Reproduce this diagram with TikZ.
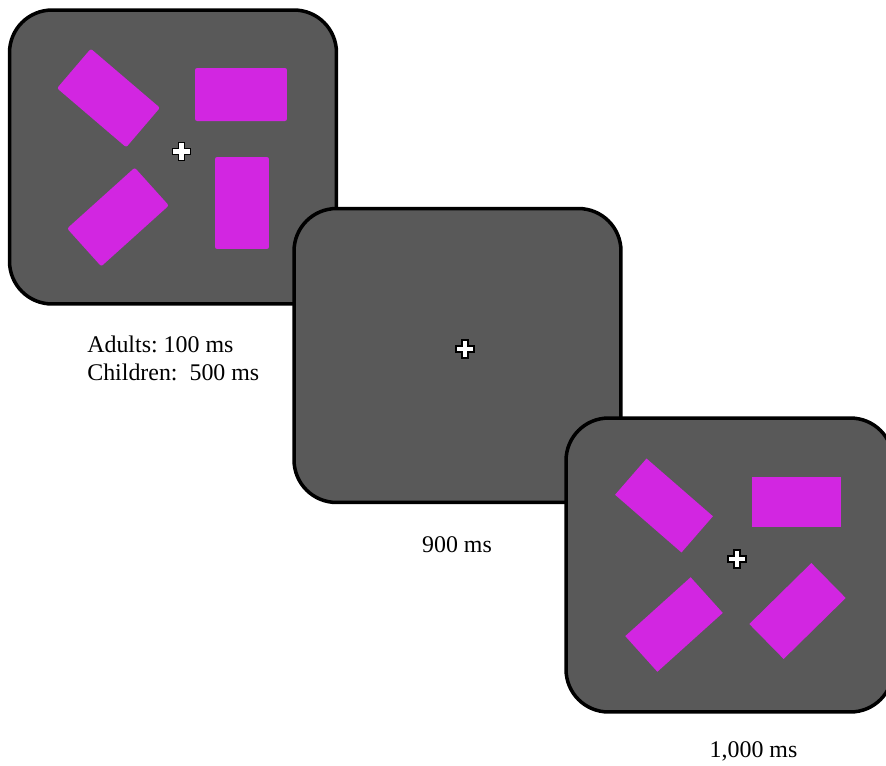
\documentclass[tikz,border=0pt]{standalone}
\usepackage{fontspec}
\setmainfont{Liberation Serif}
\usetikzlibrary{positioning}
\frenchspacing

\definecolor{screengray}{RGB}{89,89,89}
\definecolor{stimpurple}{RGB}{210,38,225}

\tikzset{
  screen/.style={draw=black, line width=2pt, fill=screengray, rounded corners=0.85cm,
    inner sep=0pt, minimum width=6.54cm, minimum height=5.88cm},
  stim/.style={fill=stimpurple, inner sep=0pt, rounded corners=1.2pt},
  stimsharp/.style={fill=stimpurple, inner sep=0pt},
  timing/.style={font=\fontsize{13.6}{15.3}\selectfont, inner sep=0pt},
  fixation/.pic={
    \draw [fill=white, line width=0.9pt, line join=miter]
      (-3,-9.2) -- (3,-9.2) -- (3,-3) -- (9.2,-3) -- (9.2,3) -- (3,3)
      -- (3,9.2) -- (-3,9.2) -- (-3,3) -- (-9.2,3) -- (-9.2,-3) -- (-3,-3) -- cycle;
  }
}

\begin{document}
\begin{tikzpicture}[x={(0.02cm,0cm)}, y={(0cm,-0.02cm)}]

    \clip (0,0) rectangle (886,765);

    % first screen: stimulus
    \node [screen] (scrA) at (173,157) {};
    \node [stim, minimum width=1.82cm, minimum height=1.04cm, rotate=-40.5] (scrAtl) at (108.5,98) {};
    \node [stim, minimum width=1.84cm, minimum height=1.06cm] (scrAtr) at (241,94.5) {};
    \node [stim, minimum width=1.08cm, minimum height=1.84cm] (scrAbr) at (242,203) {};
    \node [stim, minimum width=1.82cm, minimum height=1.02cm, rotate=42] (scrAbl) at (118,217) {};
    \pic at (181.5,151.5) {fixation};

    % second screen: fixation only
    \node [screen] (scrB) at (457.5,355.5) {};
    \pic at (465,349) {fixation};

    % third screen: test display
    \node [screen] (scrC) at (729.5,565) {};
    \node [stimsharp, minimum width=1.76cm, minimum height=0.96cm, rotate=-41] (scrCtl) at (664,505.5) {};
    \node [stimsharp, minimum width=1.78cm, minimum height=1.0cm] (scrCtr) at (796.5,502) {};
    \node [stimsharp, minimum width=1.76cm, minimum height=0.96cm, rotate=42] (scrCbl) at (674,624.5) {};
    \node [stimsharp, minimum width=1.74cm, minimum height=0.98cm, rotate=44.5] (scrCbr) at (797.5,611) {};
    \pic at (737,559) {fixation};

    % durations
    \node [timing, anchor=base west] (adults) at (87,352) {Adults: 100 ms};
    \node [timing, anchor=base west] (children) at (87,380) {Children:~ 500 ms};
    \node [timing, anchor=base] (blank) at (457,552) {900 ms};
    \node [timing, anchor=base] (test) at (753.5,757) {1,000 ms};

\end{tikzpicture}
\end{document}
